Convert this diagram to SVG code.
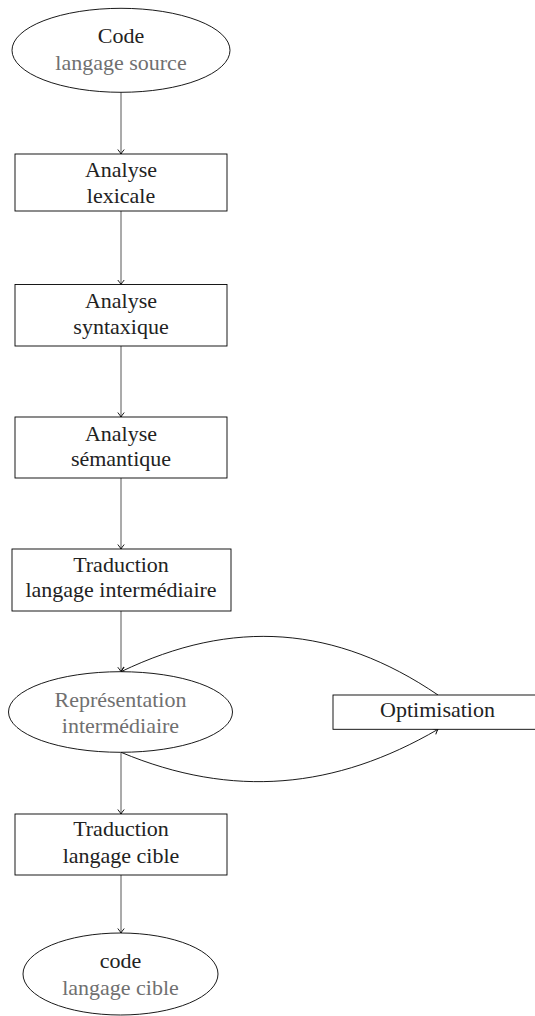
<svg xmlns="http://www.w3.org/2000/svg" width="535" height="1016" viewBox="0 0 535 1016">
<style>
.n{fill:#fff;stroke:#000;stroke-width:0.9}
.t{font-family:'Liberation Serif','DejaVu Serif','Noto Serif',serif;font-size:22px;fill:#222;text-anchor:middle}
.g{fill:#707070}
.c{fill:none;stroke:#000;stroke-width:0.9;marker-end:url(#ah)}
.v{stroke:#444}
</style>
<defs>
<marker id="ah" markerUnits="userSpaceOnUse" markerWidth="12" markerHeight="12" refX="0" refY="0" viewBox="-6 -6 12 12" orient="auto" overflow="visible">
<path d="M-4.5,-3.2 Q-1.2,-0.6 0,0 Q-1.2,0.6 -4.5,3.2" fill="none" stroke="#000" stroke-width="0.9"/>
</marker>
</defs>
<g id="connectors">
<path class="c v" d="M121,92.3 L121,154"/>
<path class="c v" d="M121,211 L121,284.5"/>
<path class="c v" d="M121,346 L121,417"/>
<path class="c v" d="M121,478 L121,549"/>
<path class="c v" d="M121,611 L121,671.7"/>
<path class="c v" d="M121,752.3 L121,814"/>
<path class="c v" d="M121,875 L121,933"/>
<path class="c" d="M438,695 C335.5,625.3 232.6,618 121,671.7"/>
<path class="c" d="M121,752.3 C232.7,799 335.6,789 438,729.3"/>
</g>
<g id="code-source">
<ellipse class="n" cx="121" cy="50.3" rx="109" ry="42"/>
<text class="t" x="121" y="43.3" font-family="Liberation Serif, serif">Code</text>
<text class="t g" x="121" y="70" font-family="Liberation Serif, serif">langage source</text>
</g>
<g id="lexicale">
<rect class="n" x="15" y="154" width="212" height="57"/>
<text class="t" x="121" y="177">Analyse</text>
<text class="t" x="121" y="203">lexicale</text>
</g>
<g id="syntaxique">
<rect class="n" x="15" y="284.5" width="212" height="61.5"/>
<text class="t" x="121" y="308.3">Analyse</text>
<text class="t" x="121" y="334">syntaxique</text>
</g>
<g id="semantique">
<rect class="n" x="15" y="417" width="212" height="61"/>
<text class="t" x="121" y="440.7">Analyse</text>
<text class="t" x="121" y="466">sémantique</text>
</g>
<g id="traduction-intermediaire">
<rect class="n" x="12" y="549" width="219" height="62"/>
<text class="t" x="121" y="572.3">Traduction</text>
<text class="t" x="121" y="596.7">langage intermédiaire</text>
</g>
<g id="representation">
<ellipse class="n" cx="120.5" cy="712" rx="112" ry="40.3"/>
<text class="t g" x="120.5" y="707.3">Représentation</text>
<text class="t g" x="120.5" y="732.7">intermédiaire</text>
</g>
<g id="optimisation">
<rect class="n" x="333" y="695" width="209" height="34.3"/>
<text class="t" x="437.5" y="717">Optimisation</text>
</g>
<g id="traduction-cible">
<rect class="n" x="15" y="814" width="212" height="61"/>
<text class="t" x="121" y="836">Traduction</text>
<text class="t" x="121" y="862.7">langage cible</text>
</g>
<g id="code-cible">
<ellipse class="n" cx="120.5" cy="974" rx="97.5" ry="41"/>
<text class="t" x="120.5" y="968.3">code</text>
<text class="t g" x="120.5" y="995">langage cible</text>
</g>
</svg>
